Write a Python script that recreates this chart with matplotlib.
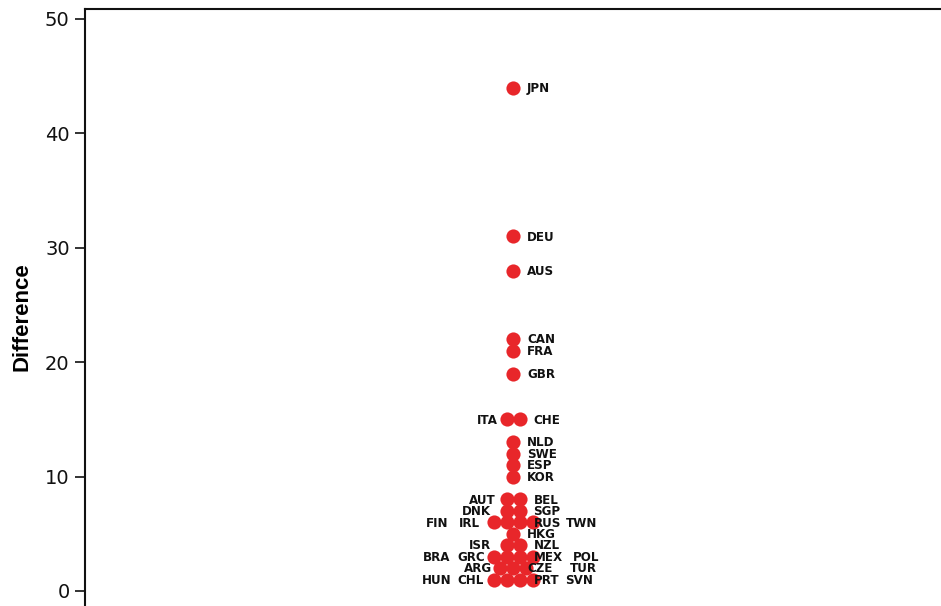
import numpy as np
import matplotlib
matplotlib.use("Agg")
import matplotlib.pyplot as plt

# country codes and their difference values
countries = ['JPN', 'DEU', 'AUS', 'CAN', 'FRA', 'GBR',
             'ITA', 'CHE', 'NLD', 'SWE', 'ESP', 'KOR',
             'AUT', 'BEL', 'DNK', 'SGP',
             'FIN', 'IRL', 'RUS', 'TWN', 'HKG',
             'ISR', 'NZL', 'BRA', 'GRC', 'MEX', 'POL',
             'ARG', 'CZE', 'TUR', 'HUN', 'CHL', 'PRT', 'SVN']
values = [44, 31, 28, 22, 21, 19,
          15, 15, 13, 12, 11, 10,
          8, 8, 7, 7,
          6, 6, 6, 6, 5,
          4, 4, 3, 3, 3, 3,
          2, 2, 2, 1, 1, 1, 1]

y_ticks = [0, 10, 20, 30, 40, 50]

# label offsets from the dot centre, in pixels (negative = label left of dot)
label_dx = {'ITA': -9, 'AUT': -11, 'DNK': -16, 'ISR': -15, 'ARG': -8,
            'FIN': -45, 'IRL': -26, 'BRA': -43, 'GRC': -22, 'HUN': -42, 'CHL': -23,
            'TWN': 33, 'POL': 40, 'TUR': 44, 'SVN': 33}

RED = '#e8262a'
DPI = 100
PX = 72.0 / DPI   # pixel -> points

fig = plt.figure(figsize=(9.41, 6.06), dpi=DPI)
# axes runs past the bottom and right edges of the figure
ax = fig.add_axes([85 / 941, -0.0318, 1.05, 1.0175])

# simple beeswarm: dots with the same value are spread side by side
vals = np.array(values)
xs = np.zeros(len(vals))
for v in np.unique(vals):
    idx = np.where(vals == v)[0]
    n = len(idx)
    xs[idx] = np.arange(n) - (n - 1) / 2.0

ax.plot(xs, vals, 'o', color=RED, markersize=10.2, markeredgewidth=0, zorder=3)

for x, v, c in zip(xs, vals, countries):
    dx = label_dx.get(c, 14)
    ha = 'right' if dx < 0 else 'left'
    ax.annotate(c, (x, v), xytext=(dx * PX, -0.5), textcoords='offset points',
                ha=ha, va='center', fontsize=8.6, fontweight='bold',
                color='#111111', zorder=4)

# one x unit equals one dot spacing (~13 px)
unit = 13.0
ax_w_px = 1.05 * 941
left_units = (513 - 85) / unit
ax.set_xlim(-left_units, -left_units + ax_w_px / unit)
ax.set_ylim(-3, 50.9)

ax.set_yticks(y_ticks)
ax.tick_params(axis='y', direction='out', length=7, width=1.2,
               labelsize=14, pad=4, colors='#111111')
ax.set_xticks([])
for s in ax.spines.values():
    s.set_linewidth(1.5)
    s.set_color('#111111')

ax.set_ylabel('Difference', fontsize=16, fontweight='bold',
              family='Liberation Sans', labelpad=9)

fig.savefig('out.png', dpi=DPI)
